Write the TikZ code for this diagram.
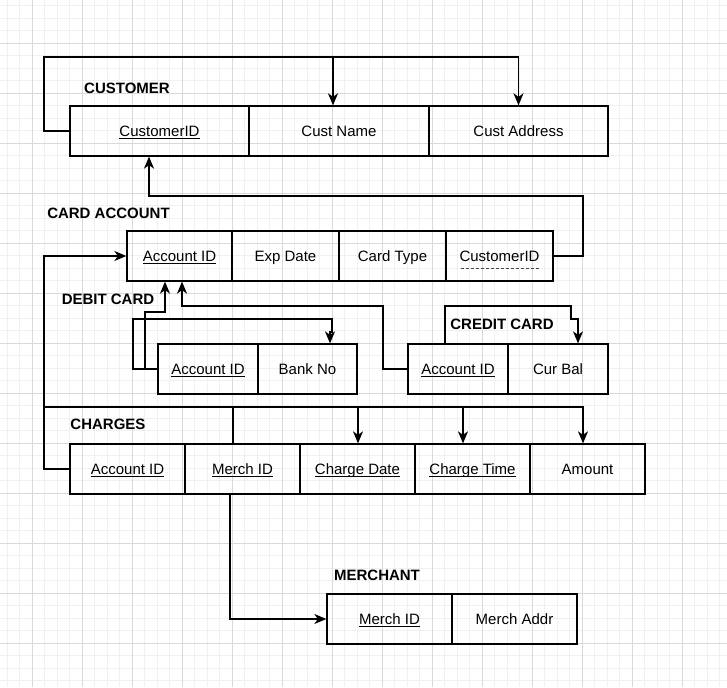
\documentclass[tikz,border=0pt]{standalone}
\usepackage{fontspec}
\setmainfont{Liberation Sans}
\usetikzlibrary{arrows.meta,calc}
\definecolor{gmin}{HTML}{F0F0F0}
\definecolor{gmaj}{HTML}{D9D9D9}
\definecolor{dashc}{HTML}{444444}
\newcommand\myul[1]{\setbox0\hbox{#1}\rlap{\smash{\rule[-2.5pt]{\wd0}{1pt}}}\box0}
\newcommand\mydul[1]{\setbox0\hbox{#1}\rlap{\smash{\raisebox{-7pt}{\color{dashc}\hbox to \wd0{\xleaders\hbox to 5pt{\hss\rule{3pt}{1pt}\hss}\hfill}}}}\box0}
\begin{document}
\begin{tikzpicture}[x=1pt,y=-1pt,
  cell/.style={draw=black, line width=1.3pt, minimum height=50pt, inner sep=0pt,
    text height=14pt, text depth=3pt,
    font=\fontsize{15}{18}\selectfont, text=black},
  ttl/.style={font=\fontsize{15}{18}\selectfont\bfseries, text=black, inner sep=0pt},
  conn/.style={line width=1.3pt, draw=black},
  arr/.style={conn, -{Stealth[length=12pt,width=10pt,inset=3.5pt]}}]
\useasboundingbox (0,0) rectangle (727,687);
\fill[white] (0,0) rectangle (727,687);
% grid
\foreach \i in {0,...,57} { \draw[gmin, line width=1pt] ({7.3+12.5*\i},0) -- ({7.3+12.5*\i},687); }
\foreach \j in {0,...,54} { \draw[gmin, line width=1pt] (0,{5.8+12.5*\j}) -- (727,{5.8+12.5*\j}); }
\foreach \i in {0,...,13} { \draw[gmaj, line width=1pt] ({32.3+50*\i},0) -- ({32.3+50*\i},687); }
\foreach \j in {0,...,12} { \draw[gmaj, line width=1pt] (0,{43.3+50*\j}) -- (727,{43.3+50*\j}); }

% titles
\node[ttl] (tcu) at (127,88) {CUSTOMER};
\node[ttl] (tca) at (108.5,213) {CARD ACCOUNT};
\node[ttl] (tdb) at (108,299) {DEBIT CARD};
\node[ttl] (tcr) at (502,324) {CREDIT CARD};
\node[ttl] (tch) at (108,424) {CHARGES};
\node[ttl] (tmc) at (377,575) {MERCHANT};

% customer
\node[cell, minimum width=179pt] (cu1) at (159.5,131) {\myul{CustomerID}};
\node[cell, minimum width=180pt] (cu2) at (339,131) {Cust Name};
\node[cell, minimum width=179pt] (cu3) at (518.5,131) {Cust Address};
% card account
\node[cell, minimum width=105pt] (ca1) at (179.5,256) {\myul{Account ID}};
\node[cell, minimum width=107pt] (ca2) at (285.5,256) {Exp Date};
\node[cell, minimum width=107pt] (ca3) at (392.5,256) {Card Type};
\node[cell, minimum width=107pt] (ca4) at (499.5,256) {\mydul{CustomerID}};
% debit card
\node[cell, minimum width=100pt] (db1) at (208,369) {\myul{Account ID}};
\node[cell, minimum width=99pt] (db2) at (307.5,369) {Bank No};
% credit card
\node[cell, minimum width=100pt] (cr1) at (458,369) {\myul{Account ID}};
\node[cell, minimum width=100pt] (cr2) at (558,369) {Cur Bal};
% charges
\node[cell, minimum width=115pt] (ch1) at (127.5,469) {\myul{Account ID}};
\node[cell, minimum width=115pt] (ch2) at (242.5,469) {\myul{Merch ID}};
\node[cell, minimum width=115pt] (ch3) at (357.5,469) {\myul{Charge Date}};
\node[cell, minimum width=115pt] (ch4) at (472.5,469) {\myul{Charge Time}};
\node[cell, minimum width=115pt] (ch5) at (587.5,469) {Amount};
% merchant
\node[cell, minimum width=125pt] (mc1) at (389.5,619) {\myul{Merch ID}};
\node[cell, minimum width=125pt] (mc2) at (514.5,619) {Merch Addr};

% connectors
\coordinate (cbus) at (44,57);
\draw[arr] (cu1.west) -| (cbus) -| (cu3.north);
\draw[arr] (cbus) -| ($(cu2.north)+(-6,0)$);
\coordinate (r1) at (583,196);
\draw[arr] (ca4.east) -| (r1) -| ($(cu1.south)+(-10.5,0)$);
\draw[arr] (ch1.west) -- (44,469) -- (44,256) -- (ca1.west);
\draw[arr] (db1.west) -- (133,369) -- (133,319) -- (332,319) -- (332,332) -- (330,332) -- ($(db2.north)+(22.5,0)$);
\draw[arr] (db1.west) -- (145,369) -- (145,312) -- (165,312) -- ($(ca1.south)+(-14.5,0)$);
\draw[arr] (cr1.west) -- (383,369) -- (383,306) -- (182,306) -- ($(ca1.south)+(2.5,0)$);
\draw[arr] ($(cr1.north)+(-13,0)$) -- (445,306) -- (571,306) -- (571,319) -- (578,319) -- ($(cr2.north)+(20,0)$);
\draw[arr] ($(ch2.north)+(-9.5,0)$) -- (233,407) -- (358,407) -- ($(ch3.north)+(0.5,0)$);
\draw[arr] ($(ch2.north)+(-9.5,0)$) -- (233,407) -- (463,407) -- ($(ch4.north)+(-9.5,0)$);
\draw[arr] (ch1.west) -- (44,469) -- (44,407) -- (583,407) -- ($(ch5.north)+(-4.5,0)$);
\draw[arr] ($(ch2.south)+(-12.5,0)$) -- (230,619) -- (mc1.west);
\end{tikzpicture}
\end{document}
